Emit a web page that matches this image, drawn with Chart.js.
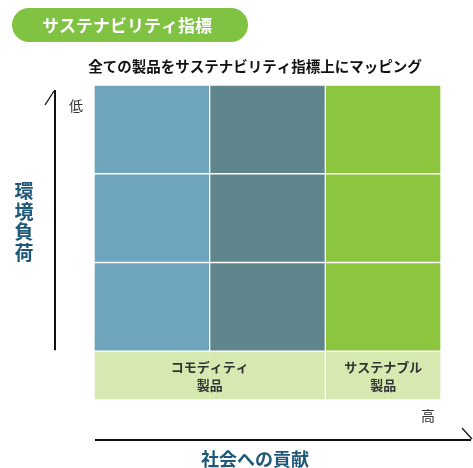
<!DOCTYPE html>
<html>
<head>
<meta charset="utf-8">
<script src="https://cdn.jsdelivr.net/npm/chart.js@4"></script>
<style>
  html, body { margin: 0; padding: 0; background: #ffffff; }
  #wrap { width: 473px; height: 468px; position: relative; }
</style>
</head>
<body>
<div id="wrap"><canvas id="c" width="473" height="468"></canvas></div>
<script>
// ---- data ----
const columns = ['1', '2', '3'];                 // contribution columns (low -> high)
const row1Values = [1, 1, 1];                    // top row (low load)
const row2Values = [1, 1, 1];                    // middle row
const row3Values = [1, 1, 1];                    // bottom row
const bandValues = [0.55, 0.55, 0.55];           // product-group band
const columnColors = ['#6fa4bd', '#5f868d', '#8cc63e'];
const bandColor = '#d6e9b0';
const productGroups = [['コモディティ', '製品'], ['サステナブル', '製品']];
const titleText = 'サステナビリティ指標';
const subtitleText = '全ての製品をサステナビリティ指標上にマッピング';
const yAxisLabel = '環境負荷';
const xAxisLabel = '社会への貢献';
const lowLabel = '低';
const highLabel = '高';

const FONT = "'Noto Sans CJK JP', 'Noto Sans', sans-serif";
const AXIS_COLOR = '#1d5878';

const cellBorder = { top: 1, right: 1, bottom: 1, left: 1 };
const bandBorders = [
  { top: 1, right: 0, bottom: 1, left: 1 },
  { top: 1, right: 1, bottom: 1, left: 0 },
  { top: 1, right: 1, bottom: 1, left: 1 }
];

function cellDataset(values) {
  return {
    data: values,
    backgroundColor: columnColors,
    borderColor: '#ffffff',
    borderWidth: cellBorder,
    borderSkipped: false,
    barPercentage: 1,
    categoryPercentage: 1
  };
}

const decor = {
  id: 'decor',
  afterDraw(chart) {
    const ctx = chart.ctx;
    const xs = chart.scales.x, ys = chart.scales.y;
    ctx.save();

    // title pill
    ctx.fillStyle = '#80c242';
    ctx.beginPath();
    ctx.roundRect(12, 8, 236, 34, 17);
    ctx.fill();
    ctx.fillStyle = '#ffffff';
    ctx.font = 'bold 17px ' + FONT;
    ctx.textAlign = 'center';
    ctx.textBaseline = 'middle';
    ctx.fillText(titleText, 127, 26);

    // subtitle
    ctx.fillStyle = '#111111';
    ctx.font = 'bold 14.5px ' + FONT;
    ctx.fillText(subtitleText, 255, 66);

    // band labels
    const bandMid = (ys.getPixelForValue(0) + ys.getPixelForValue(bandValues[0])) / 2;
    const g1x = (xs.getPixelForValue(0) + xs.getPixelForValue(1)) / 2;
    const g2x = xs.getPixelForValue(2);
    ctx.fillStyle = '#333333';
    ctx.font = 'bold 13px ' + FONT;
    [g1x, g2x].forEach((gx, i) => {
      ctx.fillText(productGroups[i][0], gx, bandMid - 9);
      ctx.fillText(productGroups[i][1], gx, bandMid + 9);
    });

    // vertical axis arrow
    const bandTop = ys.getPixelForValue(bandValues[0]);
    ctx.strokeStyle = '#111111';
    ctx.lineWidth = 2;
    ctx.beginPath();
    ctx.moveTo(55, 90);
    ctx.lineTo(55, bandTop - 1);
    ctx.stroke();
    ctx.lineWidth = 1.3;
    ctx.beginPath();
    ctx.moveTo(45, 105);
    ctx.lineTo(54, 91);
    ctx.stroke();

    // horizontal axis arrow
    ctx.lineWidth = 2;
    ctx.beginPath();
    ctx.moveTo(95, 440);
    ctx.lineTo(471, 440);
    ctx.stroke();
    ctx.lineWidth = 1.3;
    ctx.beginPath();
    ctx.moveTo(462, 428);
    ctx.lineTo(472, 439);
    ctx.stroke();

    // low / high
    ctx.fillStyle = '#333333';
    ctx.font = '14px ' + FONT;
    ctx.fillText(lowLabel, 76, 106);
    ctx.fillText(highLabel, 428, 416);

    // axis titles
    ctx.fillStyle = AXIS_COLOR;
    ctx.font = 'bold 19px ' + FONT;
    Array.from(yAxisLabel).forEach((ch, i) => {
      ctx.fillText(ch, 24, 191 + i * 20.5);
    });
    ctx.font = 'bold 18px ' + FONT;
    ctx.fillText(xAxisLabel, 255, 459);

    ctx.restore();
  }
};

new Chart(document.getElementById('c'), {
  type: 'bar',
  data: {
    labels: columns,
    datasets: [
      {
        data: bandValues,
        backgroundColor: bandColor,
        borderColor: '#ffffff',
        borderWidth: (c) => bandBorders[c.dataIndex],
        borderSkipped: false,
        barPercentage: 1,
        categoryPercentage: 1
      },
      cellDataset(row3Values),
      cellDataset(row2Values),
      cellDataset(row1Values)
    ]
  },
  options: {
    responsive: false,
    animation: false,
    devicePixelRatio: 1,
    layout: { padding: { left: 94, right: 32, top: 85, bottom: 68 } },
    plugins: { legend: { display: false }, tooltip: { enabled: false }, title: { display: false } },
    scales: {
      x: { stacked: true, display: false },
      y: { stacked: true, display: false, min: 0, max: 3.55 }
    }
  },
  plugins: [decor]
});
</script>
</body>
</html>
